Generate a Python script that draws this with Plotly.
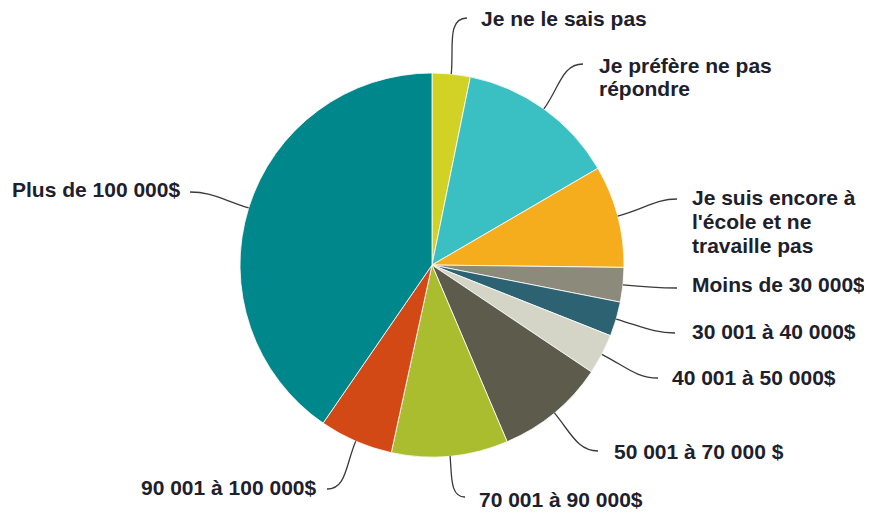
import math
import plotly.graph_objects as go

# ---- data ----
categories = [
    "Je ne le sais pas",
    "Je préfère ne pas répondre",
    "Je suis encore à l'école et ne travaille pas",
    "Moins de 30 000$",
    "30 001 à 40 000$",
    "40 001 à 50 000$",
    "50 001 à 70 000 $",
    "70 001 à 90 000$",
    "90 001 à 100 000$",
    "Plus de 100 000$",
]
values = [3.2, 13.4, 8.6, 2.9, 2.9, 3.4, 9.2, 9.8, 6.2, 40.4]
label_lines = [
    ["Je ne le sais pas"],
    ["Je préfère ne pas", "répondre"],
    ["Je suis encore à", "l'école et ne", "travaille pas"],
    ["Moins de 30 000$"],
    ["30 001 à 40 000$"],
    ["40 001 à 50 000$"],
    ["50 001 à 70 000 $"],
    ["70 001 à 90 000$"],
    ["90 001 à 100 000$"],
    ["Plus de 100 000$"],
]

# ---- styles / layout ----
colors = ["#d2d126", "#3abfc3", "#f5ad1e", "#8c8a7b", "#2c6272",
          "#d5d5c7", "#5d5b4c", "#aabd2f", "#d24916", "#00878b"]
OFF = 8                              # page body margin
W, H = 872 - 2 * OFF, 519 - 2 * OFF  # figure size (fits inside body)
CX, CY, R = 432, 265, 192            # target page pixels
FS = 21
LINE_H = 23.7
TEXT_COLOR = "#20202c"
LINE_COLOR = "#3a3a3a"
# leader line end (px), text anchor x (px), first-line center y (px), side
label_layout = [
    ((467, 18), 480, 19, "left"),
    ((583, 64), 598, 65, "left"),
    ((677, 199), 691, 198, "left"),
    ((677, 288), 691, 284.5, "left"),
    ((675, 333), 691, 331, "left"),
    ((658, 378), 671, 377, "left"),
    ((598, 451), 613, 451, "left"),
    ((465, 497), 478, 499, "left"),
    ((327, 489), 317, 487.5, "right"),
    ((190, 192), 181, 189.5, "right"),
]


def px(x, y):
    return (x - OFF) / W, 1 - (y - OFF) / H


fig = go.Figure()
dx0, dy0 = px(CX - R, CY + R)
dx1, dy1 = px(CX + R, CY - R)
fig.add_trace(go.Pie(
    labels=categories,
    values=values,
    sort=False,
    direction="clockwise",
    rotation=0,
    textinfo="none",
    hoverinfo="label+percent",
    marker=dict(colors=colors, line=dict(color="white", width=0.8)),
    domain=dict(x=[dx0, dx1], y=[dy0, dy1]),
    showlegend=False,
))

shapes = []
annotations = []
total = sum(values)
cum = 0.0
for v, lines, (end, tx, ty, side) in zip(values, label_lines, label_layout):
    mid = (cum + v / 2) / total * 2 * math.pi
    cum += v
    ux, uy = math.sin(mid), -math.cos(mid)
    sx, sy = CX + R * ux, CY + R * uy
    ex, ey = end
    d = math.hypot(ex - sx, ey - sy)
    hdir = 1 if side == "left" else -1
    c1 = (sx + ux * 0.45 * d, sy + uy * 0.45 * d)
    c2 = (ex - hdir * 0.35 * d, ey)
    pts = [px(sx, sy), px(*c1), px(*c2), px(ex, ey)]
    path = "M {:.5f},{:.5f} C {:.5f},{:.5f} {:.5f},{:.5f} {:.5f},{:.5f}".format(
        *[c for p in pts for c in p])
    shapes.append(dict(type="path", path=path, xref="paper", yref="paper",
                       line=dict(color=LINE_COLOR, width=1.3)))
    for i, line in enumerate(lines):
        ax, ay = px(tx, ty + i * LINE_H)
        annotations.append(dict(
            x=ax, y=ay, xref="paper", yref="paper", text=line,
            showarrow=False, xanchor=side, yanchor="middle",
            font=dict(family="Liberation Sans, Arial, sans-serif", size=FS,
                      color=TEXT_COLOR, weight="bold"),
            borderpad=0,
        ))

fig.update_layout(
    width=W, height=H,
    margin=dict(l=0, r=0, t=0, b=0),
    paper_bgcolor="white", plot_bgcolor="white",
    shapes=shapes, annotations=annotations,
)
fig.write_html("out.html")
